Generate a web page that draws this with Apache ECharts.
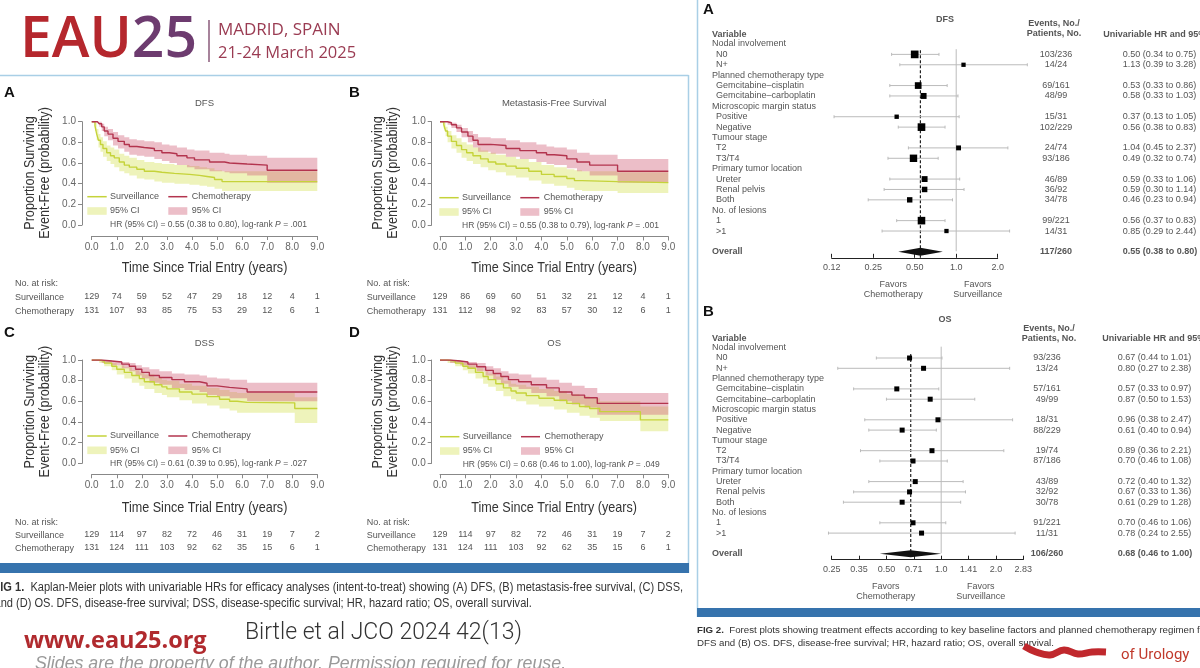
<!DOCTYPE html>
<html><head><meta charset="utf-8">
<script src="https://cdn.jsdelivr.net/npm/echarts@6/dist/echarts.min.js"></script>
<style>html,body{margin:0;padding:0;background:#fff;overflow:hidden}#c{width:1200px;height:668px}</style>
</head><body><div id="c"></div>
<script>
// ---------------- DATA ----------------
const kmXTickLabels = ['0.0','1.0','2.0','3.0','4.0','5.0','6.0','7.0','8.0','9.0'];
const kmYTickLabels = ['0.0','0.2','0.4','0.6','0.8','1.0'];
const kmTitles = ['DFS','Metastasis-Free Survival','DSS','OS'];
// [time, survival, lower CI, upper CI]
const dfsSurveillance = [[0,1,1,1],[0.13,0.96,0.91,0.99],[0.2,0.88,0.82,0.93],[0.27,0.82,0.75,0.88],[0.35,0.78,0.71,0.85],[0.45,0.74,0.66,0.81],[0.6,0.70,0.62,0.77],[0.75,0.67,0.59,0.75],[0.9,0.65,0.56,0.73],[1.1,0.61,0.52,0.69],[1.3,0.58,0.50,0.67],[1.5,0.56,0.48,0.65],[1.8,0.54,0.45,0.63],[2.1,0.52,0.44,0.61],[2.5,0.51,0.42,0.60],[2.8,0.50,0.41,0.59],[3.3,0.49,0.40,0.58],[3.9,0.48,0.39,0.57],[4.3,0.47,0.38,0.56],[4.6,0.46,0.37,0.55],[4.9,0.44,0.35,0.53],[5.2,0.42,0.33,0.52],[9.0,0.42,0.33,0.52]];
const dfsChemotherapy = [[0,1,1,1],[0.23,1,1,1],[0.3,0.98,0.95,1],[0.4,0.95,0.91,0.98],[0.5,0.91,0.86,0.95],[0.65,0.88,0.82,0.93],[0.85,0.84,0.77,0.90],[1.05,0.81,0.74,0.87],[1.3,0.78,0.71,0.85],[1.5,0.76,0.68,0.83],[1.8,0.75,0.67,0.82],[2.1,0.74,0.66,0.81],[2.5,0.72,0.64,0.80],[2.8,0.70,0.62,0.78],[3.1,0.69,0.60,0.77],[3.4,0.67,0.58,0.75],[3.8,0.65,0.56,0.73],[4.1,0.63,0.54,0.72],[4.7,0.61,0.52,0.70],[5.3,0.60,0.51,0.69],[5.5,0.59,0.50,0.68],[6.2,0.58,0.48,0.67],[7.0,0.53,0.41,0.65],[9.0,0.53,0.41,0.65]];
const mfsSurveillance = [[0,1,1,1],[0.15,0.97,0.93,0.99],[0.22,0.91,0.86,0.95],[0.3,0.86,0.80,0.91],[0.45,0.81,0.74,0.87],[0.65,0.77,0.70,0.84],[0.85,0.73,0.65,0.80],[1.05,0.70,0.62,0.78],[1.3,0.67,0.59,0.75],[1.6,0.64,0.56,0.72],[1.9,0.61,0.53,0.70],[2.2,0.59,0.51,0.68],[2.6,0.57,0.48,0.66],[3.0,0.55,0.46,0.64],[3.5,0.52,0.43,0.61],[4.0,0.49,0.40,0.58],[4.5,0.47,0.38,0.56],[5.0,0.45,0.36,0.54],[5.3,0.43,0.34,0.53],[5.6,0.42,0.33,0.52],[7.0,0.41,0.31,0.51],[9.0,0.41,0.31,0.51]];
const mfsChemotherapy = [[0,1,1,1],[0.3,0.99,0.97,1],[0.45,0.97,0.94,0.99],[0.65,0.94,0.90,0.97],[0.85,0.90,0.85,0.94],[1.1,0.86,0.80,0.91],[1.3,0.82,0.75,0.88],[1.5,0.78,0.71,0.85],[2.0,0.77,0.69,0.84],[2.6,0.74,0.66,0.82],[3.15,0.72,0.64,0.80],[3.8,0.70,0.61,0.78],[4.2,0.68,0.59,0.76],[4.5,0.67,0.58,0.75],[5.0,0.64,0.55,0.73],[5.4,0.61,0.52,0.70],[5.9,0.58,0.48,0.68],[7.0,0.52,0.41,0.64],[9.0,0.52,0.41,0.64]];
const dssSurveillance = [[0,1,1,1],[0.3,0.99,0.97,1],[0.5,0.97,0.94,0.99],[0.8,0.94,0.90,0.97],[1.0,0.91,0.86,0.95],[1.3,0.88,0.82,0.93],[1.6,0.85,0.78,0.90],[1.9,0.82,0.75,0.88],[2.1,0.79,0.72,0.86],[2.5,0.76,0.68,0.83],[2.8,0.74,0.66,0.81],[3.0,0.72,0.64,0.80],[3.5,0.69,0.61,0.77],[4.0,0.67,0.58,0.75],[4.6,0.645,0.56,0.73],[5.1,0.62,0.53,0.71],[5.5,0.60,0.51,0.69],[5.8,0.59,0.49,0.68],[6.2,0.585,0.49,0.68],[8.1,0.53,0.39,0.64],[9.0,0.53,0.39,0.64]];
const dssChemotherapy = [[0,1,1,1],[0.4,0.99,0.97,1],[0.8,0.98,0.95,0.99],[1.2,0.96,0.92,0.98],[1.5,0.94,0.89,0.97],[1.75,0.91,0.85,0.95],[2.0,0.88,0.82,0.93],[2.3,0.85,0.78,0.91],[2.7,0.83,0.76,0.89],[3.2,0.81,0.73,0.87],[3.7,0.79,0.71,0.86],[4.3,0.775,0.69,0.85],[4.6,0.75,0.66,0.83],[5.0,0.735,0.65,0.82],[5.5,0.72,0.63,0.81],[6.2,0.69,0.60,0.78],[9.0,0.69,0.60,0.78]];
const osSurveillance = [[0,1,1,1],[0.3,0.99,0.97,1],[0.6,0.97,0.94,0.99],[0.9,0.94,0.90,0.97],[1.1,0.92,0.87,0.95],[1.4,0.88,0.82,0.92],[1.7,0.84,0.77,0.89],[1.9,0.81,0.74,0.87],[2.2,0.77,0.70,0.84],[2.5,0.73,0.65,0.80],[2.8,0.70,0.62,0.77],[3.0,0.68,0.60,0.76],[3.4,0.655,0.57,0.74],[3.9,0.63,0.55,0.72],[4.5,0.61,0.52,0.70],[5.0,0.58,0.49,0.67],[5.5,0.55,0.46,0.65],[5.9,0.53,0.44,0.63],[6.3,0.50,0.41,0.60],[7.9,0.42,0.31,0.55],[9.0,0.42,0.31,0.55]];
const osChemotherapy = [[0,1,1,1],[0.4,0.99,0.97,1],[0.8,0.98,0.95,0.99],[1.1,0.96,0.92,0.98],[1.45,0.935,0.89,0.97],[1.8,0.90,0.85,0.94],[2.1,0.87,0.81,0.92],[2.4,0.84,0.77,0.89],[2.7,0.81,0.74,0.87],[3.1,0.79,0.72,0.86],[3.6,0.76,0.68,0.83],[4.2,0.73,0.65,0.81],[4.7,0.69,0.60,0.78],[5.2,0.66,0.57,0.75],[5.7,0.635,0.54,0.73],[6.2,0.58,0.47,0.68],[9.0,0.58,0.47,0.68]];
// numbers at risk
const dfsRiskSurveillance = [129,74,59,52,47,29,18,12,4,1];
const dfsRiskChemotherapy = [131,107,93,85,75,53,29,12,6,1];
const mfsRiskSurveillance = [129,86,69,60,51,32,21,12,4,1];
const mfsRiskChemotherapy = [131,112,98,92,83,57,30,12,6,1];
const dssRiskSurveillance = [129,114,97,82,72,46,31,19,7,2];
const dssRiskChemotherapy = [131,124,111,103,92,62,35,15,6,1];
const osRiskSurveillance = [129,114,97,82,72,46,31,19,7,2];
const osRiskChemotherapy = [131,124,111,103,92,62,35,15,6,1];
// HR, lower, upper, log-rank P
const kmHazard = [[0.55,0.38,0.80,'.001'],[0.55,0.38,0.79,'.001'],[0.61,0.39,0.95,'.027'],[0.68,0.46,1.00,'.049']];

// forest plots
const forestLabels = ['Nodal involvement','N0','N+','Planned chemotherapy type','Gemcitabine–cisplatin','Gemcitabine–carboplatin','Microscopic margin status','Positive','Negative','Tumour stage','T2','T3/T4','Primary tumor location','Ureter','Renal pelvis','Both','No. of lesions','1','>1','','Overall'];
const dfsHR = [null,0.50,1.13,null,0.53,0.58,null,0.37,0.56,null,1.04,0.49,null,0.59,0.59,0.46,null,0.56,0.85,null,0.55];
const dfsLo = [null,0.34,0.39,null,0.33,0.33,null,0.13,0.38,null,0.45,0.32,null,0.33,0.30,0.23,null,0.37,0.29,null,0.38];
const dfsHi = [null,0.75,3.28,null,0.86,1.03,null,1.05,0.83,null,2.37,0.74,null,1.06,1.14,0.94,null,0.83,2.44,null,0.80];
const dfsEvents = [null,'103/236','14/24',null,'69/161','48/99',null,'15/31','102/229',null,'24/74','93/186',null,'46/89','36/92','34/78',null,'99/221','14/31',null,'117/260'];
const osHR = [null,0.67,0.80,null,0.57,0.87,null,0.96,0.61,null,0.89,0.70,null,0.72,0.67,0.61,null,0.70,0.78,null,0.68];
const osLo = [null,0.44,0.27,null,0.33,0.50,null,0.38,0.40,null,0.36,0.46,null,0.40,0.33,0.29,null,0.46,0.24,null,0.46];
const osHi = [null,1.01,2.38,null,0.97,1.53,null,2.47,0.94,null,2.21,1.08,null,1.32,1.36,1.28,null,1.06,2.55,null,1.00];
const osEvents = [null,'93/236','13/24',null,'57/161','49/99',null,'18/31','88/229',null,'19/74','87/186',null,'43/89','32/92','30/78',null,'91/221','11/31',null,'106/260'];
const dfsForestTicks = ['0.12','0.25','0.50','1.0','2.0'];
const osForestTicks = ['0.25','0.35','0.50','0.71','1.0','1.41','2.0','2.83'];

// ---------------- STYLE / LAYOUT ----------------
const SANS = '"Liberation Sans", Arial, sans-serif';
const TXT = '#555';
const survColor = '#c5d33a', chemoColor = '#b3344e';
const survBand = 'rgba(205,220,60,0.35)', chemoBand = 'rgba(210,100,125,0.42)';

const panels = [
  {surv: dfsSurveillance, chemo: dfsChemotherapy, rs: dfsRiskSurveillance, rc: dfsRiskChemotherapy},
  {surv: mfsSurveillance, chemo: mfsChemotherapy, rs: mfsRiskSurveillance, rc: mfsRiskChemotherapy},
  {surv: dssSurveillance, chemo: dssChemotherapy, rs: dssRiskSurveillance, rc: dssRiskChemotherapy},
  {surv: osSurveillance, chemo: osChemotherapy, rs: osRiskSurveillance, rc: osRiskChemotherapy}
];
const layout = [
  {grid:{left:91.7,top:121.7,width:225.6,height:103.3}, xOff:11, yOff:9.7, lx:87.3, ly:196.7, titleY:103, xTitleY:267.7, yT:[30,45], yTY:173, riskX:15, riskY:[284,298,311.5], letter:['A',4,93]},
  {grid:{left:440,top:121.7,width:228.3,height:103.3}, xOff:11.5, yOff:8.3, lx:439.3, ly:197.7, titleY:103, xTitleY:267.7, yT:[378.3,393.3], yTY:173, riskX:366.7, riskY:[284,298,311.5], letter:['B',349,93]},
  {grid:{left:91.7,top:360,width:225.6,height:103.3}, xOff:11, yOff:9.7, lx:87.3, ly:436, titleY:343, xTitleY:507.7, yT:[30,45], yTY:411.7, riskX:15, riskY:[522.5,535.5,549], letter:['C',4,333]},
  {grid:{left:440,top:360,width:228.3,height:103.3}, xOff:11, yOff:8.3, lx:440, ly:436.7, titleY:343, xTitleY:507.7, yT:[378.3,393.3], yTY:411.7, riskX:366.7, riskY:[522.5,535.5,549], letter:['D',349,333]}
];

const option = {animation:false, grid:[], xAxis:[], yAxis:[], series:[], graphic:[]};
const G = option.graphic;
function T(text, x, y, o) {
  o = o || {};
  return {type:'text', x, y, silent:true, rotation:o.rot||0, scaleX:o.sx||1, z:10,
    style:{text, fill:o.fill||TXT, font:o.font||('9px '+SANS), align:o.align||'left', verticalAlign:'middle', rich:o.rich}};
}
function L(x1,y1,x2,y2,stroke,w,dash){return {type:'line',silent:true,z:5,shape:{x1,y1,x2,y2},style:{stroke,lineWidth:w||1,lineDash:dash||null}};}
function R(x,y,w,h,fill){return {type:'rect',silent:true,z:5,shape:{x,y,width:w,height:h},style:{fill}};}

// ---------------- KM panels ----------------
panels.forEach((pn, p) => {
  const Ly = layout[p];
  option.grid.push(Ly.grid);
  const gb = Ly.grid.top + Ly.grid.height;
  const xi = option.xAxis.length;
  option.xAxis.push({type:'value', gridIndex:p, min:0, max:9, interval:1, offset:Ly.xOff,
    axisLine:{show:true,onZero:false,lineStyle:{color:'#888',width:1}}, axisTick:{show:true,length:4,lineStyle:{color:'#888'}},
    axisLabel:{fontSize:10,color:'#666',margin:6,fontFamily:SANS,formatter:v=>kmXTickLabels[Math.round(v)]}, splitLine:{show:false}});
  [pn.rs, pn.rc].forEach((r,k) => option.xAxis.push({type:'category', gridIndex:p, data:r.map(String), boundaryGap:false, position:'bottom',
    offset: Ly.riskY[k+1]-gb-5.5, axisLine:{show:false,onZero:false}, axisTick:{show:false}, splitLine:{show:false},
    axisLabel:{interval:0,fontSize:9,color:TXT,margin:0,fontFamily:SANS}}));
  option.yAxis.push({type:'value', gridIndex:p, min:0, max:1, interval:0.2, offset:Ly.yOff,
    axisLine:{show:true,onZero:false,lineStyle:{color:'#888',width:1}}, axisTick:{show:true,length:4,lineStyle:{color:'#888'}},
    axisLabel:{fontSize:10,color:'#666',margin:6,fontFamily:SANS,formatter:v=>kmYTickLabels[Math.round(v*5)]}, splitLine:{show:false}});
  // CI bands as stepped polygons through the axes' scales
  const band = (c, color, z) => ({type:'custom', xAxisIndex:xi, yAxisIndex:p, silent:true, z, data:[[0,0]],
    renderItem:(params, api) => {
      const up = [], dn = [];
      for (let j = 0; j < c.length; j++) {
        const tn = j < c.length-1 ? c[j+1][0] : c[j][0];
        up.push(api.coord([c[j][0], c[j][3]]), api.coord([tn, c[j][3]]));
        dn.push(api.coord([c[j][0], c[j][2]]), api.coord([tn, c[j][2]]));
      }
      return {type:'polygon', shape:{points: up.concat(dn.reverse())}, style:{fill:color}};
    }});
  option.series.push(band(pn.surv, survBand, 1), band(pn.chemo, chemoBand, 1));
  const base = {type:'line', xAxisIndex:xi, yAxisIndex:p, step:'end', symbol:'none', silent:true, z:4};
  option.series.push(Object.assign({}, base, {lineStyle:{color:survColor,width:1.4}, data:pn.surv.map(d=>[d[0],d[1]])}));
  option.series.push(Object.assign({}, base, {lineStyle:{color:chemoColor,width:1.4}, data:pn.chemo.map(d=>[d[0],d[1]])}));

  // texts
  const cx = Ly.grid.left + Ly.grid.width/2;
  G.push(T(Ly.letter[0], Ly.letter[1], Ly.letter[2], {font:'bold 15px '+SANS, fill:'#111'}));
  G.push(T(kmTitles[p], cx, Ly.titleY, {align:'center', font:'9.5px '+SANS}));
  G.push(T('Time Since Trial Entry (years)', cx, Ly.xTitleY, {align:'center', font:'15px '+SANS, fill:'#333', sx:0.84}));
  G.push(T('Proportion Surviving', Ly.yT[0], Ly.yTY, {align:'center', rot:Math.PI/2, font:'15px '+SANS, fill:'#333', sx:0.84}));
  G.push(T('Event-Free (probability)', Ly.yT[1], Ly.yTY, {align:'center', rot:Math.PI/2, font:'15px '+SANS, fill:'#333', sx:0.84}));
  G.push(T('No. at risk:', Ly.riskX, Ly.riskY[0]));
  G.push(T('Surveillance', Ly.riskX, Ly.riskY[1]));
  G.push(T('Chemotherapy', Ly.riskX, Ly.riskY[2]));
  // legend
  const lx = Ly.lx, y1 = Ly.ly, y2 = y1+14.3, y3 = y1+27.6;
  G.push(L(lx,y1,lx+19.4,y1,survColor,1.5), T('Surveillance',lx+22.7,y1));
  G.push(L(lx+81,y1,lx+100,y1,chemoColor,1.5), T('Chemotherapy',lx+104.4,y1));
  G.push(R(lx,y2-3.8,19.4,7.6,survBand), T('95% CI',lx+22.7,y2));
  G.push(R(lx+81,y2-3.8,19,7.6,chemoBand), T('95% CI',lx+104.4,y2));
  const hz = kmHazard[p];
  G.push(T('HR (95% CI) = '+hz[0].toFixed(2)+' ('+hz[1].toFixed(2)+' to '+hz[2].toFixed(2)+'), log-rank {i|P} = '+hz[3], lx+22.7, y3,
    {font:'8.5px '+SANS, rich:{i:{font:'italic 8.5px '+SANS, fill:TXT}}}));
});

// ---------------- Forest plots ----------------
const forests = [
  {hr:dfsHR, lo:dfsLo, hi:dfsHi, ev:dfsEvents, ticks:dfsForestTicks, min:-3, max:1, interval:1,
   grid:{left:831.7,top:44,width:166,height:207.8}, evX:1056, hrX:1122.7, sq:e=>2.3+0.53*Math.sqrt(e), dh:4, solidTop:0.5},
  {hr:osHR, lo:osLo, hi:osHi, ev:osEvents, ticks:osForestTicks, min:-2, max:1.5, interval:0.5,
   grid:{left:831.7,top:347.7,width:191.6,height:206}, evX:1047, hrX:1117.7, sq:e=>5, dh:3.5, solidTop:-0.1}
];
forests.forEach((f, k) => {
  const gi = option.grid.length;
  option.grid.push(f.grid);
  const xi = option.xAxis.length, yi = option.yAxis.length;
  option.xAxis.push({type:'value', gridIndex:gi, min:f.min, max:f.max, interval:f.interval, offset:6, position:'bottom',
    axisLine:{show:true,onZero:false,lineStyle:{color:'#222',width:1}}, axisTick:{show:true,inside:true,length:4,lineStyle:{color:'#222'}},
    axisLabel:{fontSize:9,color:TXT,margin:5,fontFamily:SANS,formatter:v=>f.ticks[Math.round((v-f.min)/f.interval)]}, splitLine:{show:false}});
  option.yAxis.push({type:'value', gridIndex:gi, min:0, max:forestLabels.length-1, inverse:true, show:false});
  const font = '9px '+SANS, bold = 'bold 9px '+SANS;
  const last = forestLabels.length-1;
  option.series.push({type:'custom', xAxisIndex:xi, yAxisIndex:yi, silent:true, data:[[0,0]],
    renderItem:(params, api) => {
      const cs = params.coordSys;
      const x1 = api.coord([0,0])[0], xo = api.coord([Math.log2(f.hr[last]),0])[0];
      return {type:'group', children:[
        {type:'line', shape:{x1, y1:api.coord([0,f.solidTop])[1], x2:x1, y2:api.coord([0,last-0.05])[1]}, style:{stroke:'#bbb',lineWidth:1}},
        {type:'line', shape:{x1:xo, y1:api.coord([0,0.6])[1], x2:xo, y2:cs.y+cs.height+6}, style:{stroke:'#222',lineWidth:1.2,lineDash:[3,2]}}
      ]};
    }});
  option.series.push({type:'custom', xAxisIndex:xi, yAxisIndex:yi, silent:true, z:3,
    data: forestLabels.map((l,i)=>[0,i]),
    renderItem:(params, api) => {
      const i = params.dataIndex;
      const y = api.coord([0,i])[1];
      const ch = [];
      const hr = f.hr[i], overall = i === last;
      const lab = forestLabels[i];
      if (lab) ch.push({type:'text', x:(hr==null||overall)?712:716, y, style:{text:lab, font:overall?bold:font, fill:TXT, verticalAlign:'middle'}});
      if (hr != null) {
        const xc = api.coord([Math.log2(hr),i])[0], xl = api.coord([Math.log2(f.lo[i]),i])[0], xh = api.coord([Math.log2(f.hi[i]),i])[0];
        if (overall) {
          ch.push({type:'polygon', shape:{points:[[xl,y],[xc,y-f.dh],[xh,y],[xc,y+f.dh]]}, style:{fill:'#111'}});
        } else {
          ch.push({type:'line', shape:{x1:xl,y1:y,x2:xh,y2:y}, style:{stroke:'#bbb',lineWidth:1}});
          ch.push({type:'line', shape:{x1:xl,y1:y-1.5,x2:xl,y2:y+1.5}, style:{stroke:'#bbb',lineWidth:1}});
          ch.push({type:'line', shape:{x1:xh,y1:y-1.5,x2:xh,y2:y+1.5}, style:{stroke:'#bbb',lineWidth:1}});
          const s = f.sq(parseInt(f.ev[i]));
          ch.push({type:'rect', shape:{x:xc-s/2,y:y-s/2,width:s,height:s}, style:{fill:'#000'}});
        }
        ch.push({type:'text', x:f.evX, y, style:{text:f.ev[i], font:overall?bold:font, fill:TXT, align:'center', verticalAlign:'middle'}});
        ch.push({type:'text', x:f.hrX, y, style:{text:hr.toFixed(2)+' ('+f.lo[i].toFixed(2)+' to '+f.hi[i].toFixed(2)+')', font:overall?bold:font, fill:TXT, verticalAlign:'middle'}});
      }
      return {type:'group', children:ch};
    }});
});

// forest headers
const B9 = 'bold 9px '+SANS;
G.push(T('A',703,10,{font:'bold 15px '+SANS,fill:'#111'}), T('DFS',945,20,{font:B9,align:'center'}),
  T('Events, No./',1054,23.3,{font:B9,align:'center'}), T('Patients, No.',1054,33.3,{font:B9,align:'center'}),
  T('Variable',712,34.3,{font:B9}), T('Univariable HR and 95% CI',1103.3,34.3,{font:B9}),
  T('Favors',893.3,285,{align:'center'}), T('Chemotherapy',893.3,295,{align:'center'}),
  T('Favors',977.7,285,{align:'center'}), T('Surveillance',977.7,295,{align:'center'}));
G.push(T('B',703,312.3,{font:'bold 15px '+SANS,fill:'#111'}), T('OS',945,320,{font:B9,align:'center'}),
  T('Events, No./',1049,328.3,{font:B9,align:'center'}), T('Patients, No.',1049,338.3,{font:B9,align:'center'}),
  T('Variable',712,338.3,{font:B9}), T('Univariable HR and 95% CI',1102.3,338.3,{font:B9}),
  T('Favors',885.7,586.7,{align:'center'}), T('Chemotherapy',885.7,596.7,{align:'center'}),
  T('Favors',980.7,586.7,{align:'center'}), T('Surveillance',980.7,596.7,{align:'center'}));

// frames
const FR = '#a9cfe6', BAR = '#3673ad';
G.push(L(0,75.5,688.5,75.5,FR,1.5), L(688.5,75,688.5,573,FR,1.5), R(0,563,689,10,BAR));
G.push(L(697.5,0,697.5,617,FR,1.5), R(697,608,503,9,BAR));

// header
G.push({type:'text', x:20, y:41, silent:true, style:{text:'{a|EAU}{b|25}', verticalAlign:'middle',
  rich:{a:{font:'600 57px "Open Sans"', fill:'#b5272d'}, b:{font:'600 57px "Open Sans"', fill:'#6d3b6f'}}}});
G.push(L(209,20,209,62,'#8a5a7a',1.5));
G.push(T('MADRID, SPAIN',218,30,{font:'17px "Open Sans"',fill:'#9a3b52'}), T('21-24 March 2025',218,53,{font:'16.5px "Open Sans"',fill:'#9a3b52'}));

// captions & footer
G.push(T('{b|FIG 1.}  Kaplan-Meier plots with univariable HRs for efficacy analyses (intent-to-treat) showing (A) DFS, (B) metastasis-free survival, (C) DSS,', -6.5, 588,
  {font:'12.5px '+SANS, fill:'#333', sx:0.885, rich:{b:{font:'bold 12.5px '+SANS, fill:'#333'}}}));
G.push(T('and (D) OS. DFS, disease-free survival; DSS, disease-specific survival; HR, hazard ratio; OS, overall survival.', -5.5, 604, {font:'12.5px '+SANS, fill:'#333', sx:0.885}));
G.push(T('{b|FIG 2.}  Forest plots showing treatment effects according to key baseline factors and planned chemotherapy regimen for (A)', 697, 630,
  {font:'9.7px '+SANS, fill:'#333', rich:{b:{font:'bold 9.7px '+SANS, fill:'#333'}}}));
G.push(T('DFS and (B) OS. DFS, disease-free survival; HR, hazard ratio; OS, overall survival.', 697, 643.3, {font:'9.7px '+SANS, fill:'#333'}));
G.push({type:'polyline', silent:true, z:11, shape:{points:[[1024,646],[1036,652],[1050,655],[1064,650],[1078,654],[1092,652],[1106,652]], smooth:0.4}, style:{stroke:'#c0282d', lineWidth:7, fill:null}});
G.push(T('of Urology',1121,655,{font:'15px Roboto',fill:'#c0392b'}));
G.push(T('www.eau25.org',24,641,{font:'bold 23.5px "Open Sans"',fill:'#b02a2e'}));
G.push(T('Birtle et al JCO 2024 42(13)',245,633,{font:'300 23px Roboto',fill:'#333',sx:1.0}));
G.push(T('Slides are the property of the author. Permission required for reuse.',35,664,{font:'italic 17.8px '+SANS,fill:'#9a9a9a'}));

const chart = echarts.init(document.getElementById('c'), null, {renderer:'canvas'});
chart.setOption(option);
</script></body></html>
